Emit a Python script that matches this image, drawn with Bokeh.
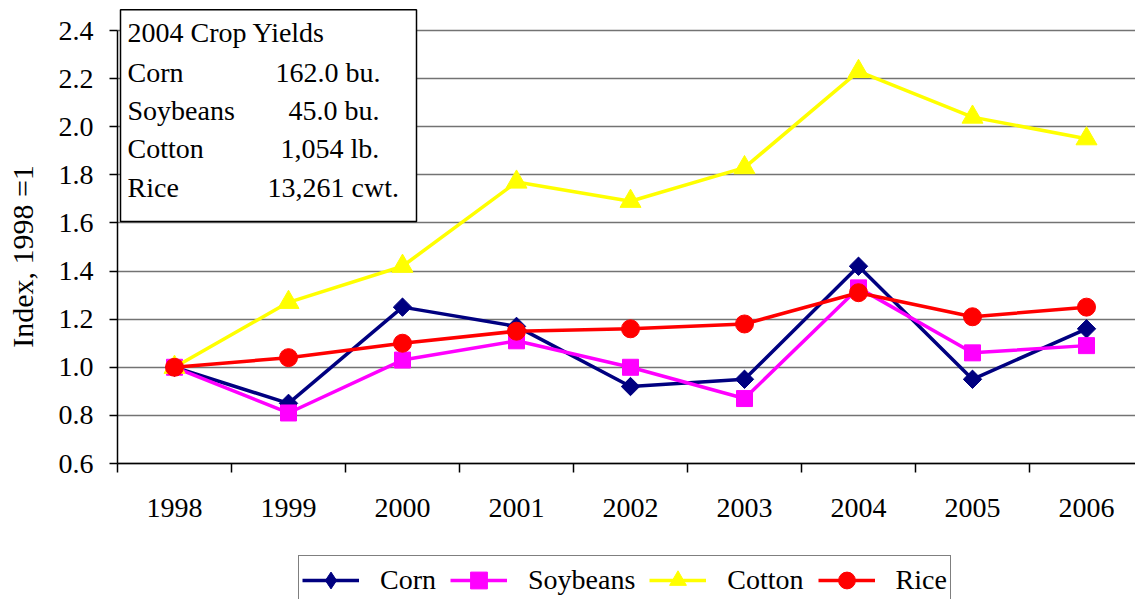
import math
from bokeh.plotting import figure
from bokeh.models import (Range1d, FixedTicker, LinearAxis, Legend, LegendItem,
                          BoxAnnotation, Label, Grid)
from bokeh.embed import file_html
from bokeh.resources import INLINE

# ---------------- data ----------------
years = [1998, 1999, 2000, 2001, 2002, 2003, 2004, 2005, 2006]
corn = [1.00, 0.85, 1.25, 1.17, 0.92, 0.95, 1.42, 0.95, 1.16]
soybeans = [1.00, 0.81, 1.03, 1.11, 1.00, 0.87, 1.33, 1.06, 1.09]
cotton = [1.00, 1.27, 1.42, 1.77, 1.69, 1.83, 2.23, 2.04, 1.95]
rice = [1.00, 1.04, 1.10, 1.15, 1.16, 1.18, 1.31, 1.21, 1.25]
series_names = ["Corn", "Soybeans", "Cotton", "Rice"]
y_ticks = [0.6, 0.8, 1.0, 1.2, 1.4, 1.6, 1.8, 2.0, 2.2, 2.4]
y_label = "Index, 1998 =1"
inset_title = "2004 Crop Yields"
inset_crops = ["Corn", "Soybeans", "Cotton", "Rice"]
inset_values = ["162.0 bu.", "45.0 bu.", "1,054 lb.", "13,261 cwt."]

# ---------------- layout constants (pixels on the canvas) ----------------
FONT = "Liberation Serif"
FS = "28px"
W, H = 1135, 599
AX_L = 117                  # x of the y axis
PT, PB = 30, 463            # y of the top and bottom y ticks
SLOT = 114                  # pixels per year
x0 = years[0] - 0.5
y0, y1 = y_ticks[0], y_ticks[-1]
ppu = (PB - PT) / (y1 - y0)


def dx(px):
    return x0 + (px - AX_L) / SLOT


def dy(py):
    return y1 - (py - PT) / ppu


x_end = dx(W)

# the frame covers the whole canvas; axes are pinned at data locations
p = figure(width=W, height=H, output_backend="svg", toolbar_location=None,
           x_range=Range1d(dx(0), x_end), y_range=Range1d(dy(H), dy(0)),
           min_border_left=0, min_border_right=0, min_border_top=0,
           min_border_bottom=0,
           background_fill_color="white", border_fill_color="white",
           outline_line_color=None)

# horizontal grid lines from the y axis to the right edge
p.xgrid.visible = False
grid_color, grid_width = "#737373", 1.5
if "cross_bounds" in Grid.properties():
    p.ygrid.ticker = FixedTicker(ticks=y_ticks)
    p.ygrid.cross_bounds = (x0, x_end)
    p.ygrid.grid_line_color = grid_color
    p.ygrid.grid_line_width = grid_width
else:
    p.ygrid.visible = False
    p.segment(x0=[x0] * len(y_ticks), x1=[x_end] * len(y_ticks),
              y0=y_ticks, y1=y_ticks, line_color=grid_color,
              line_width=grid_width, level="underlay")

# y axis at x = x0
ya = p.yaxis[0]
ya.fixed_location = x0
ya.ticker = FixedTicker(ticks=y_ticks)
ya.major_label_overrides = {t: f"{t:.1f}" for t in y_ticks}
ya.bounds = (y0, y1)
ya.axis_line_color = "black"
ya.axis_line_width = 1.5
ya.major_tick_line_color = "black"
ya.major_tick_line_width = 1.5
ya.major_tick_out = 8
ya.major_tick_in = 0
ya.minor_tick_line_color = None
ya.major_label_standoff = 16
ya.major_label_text_font = FONT
ya.major_label_text_font_size = FS
ya.major_label_text_color = "black"

# y axis title
p.add_layout(Label(x=dx(22), y=dy(256), text=y_label, angle=math.pi / 2,
                   text_font=FONT, text_font_size="30px", text_color="black",
                   text_align="center", text_baseline="middle"))

# x axis: tick marks at category boundaries, drawn at y = 0.6
boundaries = [y - 0.5 for y in years]
xa = p.xaxis[0]
xa.fixed_location = y0
xa.bounds = (x0, x_end)
xa.ticker = FixedTicker(ticks=boundaries)
xa.major_label_overrides = {b: "" for b in boundaries}
xa.major_label_text_font_size = "1px"
xa.major_label_standoff = 0
xa.axis_line_color = "black"
xa.axis_line_width = 1.5
xa.major_tick_line_color = "black"
xa.major_tick_line_width = 1.5
xa.major_tick_out = 9
xa.major_tick_in = 0
xa.minor_tick_line_color = None

# x axis: year labels at category centres
xa2 = LinearAxis(ticker=FixedTicker(ticks=years), fixed_location=y0,
                 major_label_overrides={y: str(y) for y in years})
xa2.axis_line_color = None
xa2.major_tick_line_color = None
xa2.minor_tick_line_color = None
xa2.major_label_standoff = 29
xa2.major_label_text_font = FONT
xa2.major_label_text_font_size = FS
xa2.major_label_text_color = "black"
p.add_layout(xa2, "below")

# series: (values, colour, plot marker, size, angle)
styles = [
    (corn, "#000080", "square", 13, math.pi / 4),
    (soybeans, "#FF00FF", "square", 16, 0.0),
    (cotton, "#FFFF00", "triangle", 21, 0.0),
    (rice, "#FF0000", "circle", 18, 0.0),
]
items = []
for name, (vals, color, marker, size, angle) in zip(series_names, styles):
    rl = p.line(years, vals, line_color=color, line_width=3.5)
    if angle:
        # upright diamond (hidden under the rotated square) for the legend
        rk = p.scatter(years, vals, marker="diamond", size=size + 4,
                       fill_color=color, line_color=color, line_width=1)
    rm = p.scatter(years, vals, marker=marker, size=size, angle=angle,
                   fill_color=color, line_color=color, line_width=1)
    items.append(LegendItem(label=name, renderers=[rl, rk if angle else rm]))

LEG_L, LEG_TOP, LEG_PAD, LEG_GH = 298, 557, 3, 42
legend = Legend(items=items, orientation="horizontal",
                location=(LEG_L, -(LEG_TOP + 2 * LEG_PAD + LEG_GH - H)),
                label_text_font=FONT, label_text_font_size=FS,
                label_text_color="black",
                glyph_width=57, glyph_height=LEG_GH, label_standoff=21,
                spacing=14, padding=LEG_PAD, margin=0,
                border_line_color="black", border_line_width=1.5,
                background_fill_color="white", background_fill_alpha=1)
p.add_layout(legend)

# inset box with 2004 yields
box = BoxAnnotation(left=dx(120), right=dx(416), top=dy(9.3), bottom=dy(221),
                    fill_color="white", fill_alpha=1.0,
                    line_color="black", line_width=1.5, line_alpha=1.0)
p.add_layout(box)

p.add_layout(Label(x=dx(127), y=dy(32), text=inset_title,
                   text_font=FONT, text_font_size=FS, text_color="black",
                   text_baseline="middle", text_align="left"))
row_y = [72, 110, 148, 187]
val_x = [275, 288, 280, 267]
for crop, val, ry, vx in zip(inset_crops, inset_values, row_y, val_x):
    p.add_layout(Label(x=dx(127), y=dy(ry), text=crop,
                       text_font=FONT, text_font_size=FS, text_color="black",
                       text_baseline="middle", text_align="left"))
    p.add_layout(Label(x=dx(vx), y=dy(ry), text=val,
                       text_font=FONT, text_font_size=FS, text_color="black",
                       text_baseline="middle", text_align="left"))

open("out.html", "w").write(file_html(p, INLINE))
